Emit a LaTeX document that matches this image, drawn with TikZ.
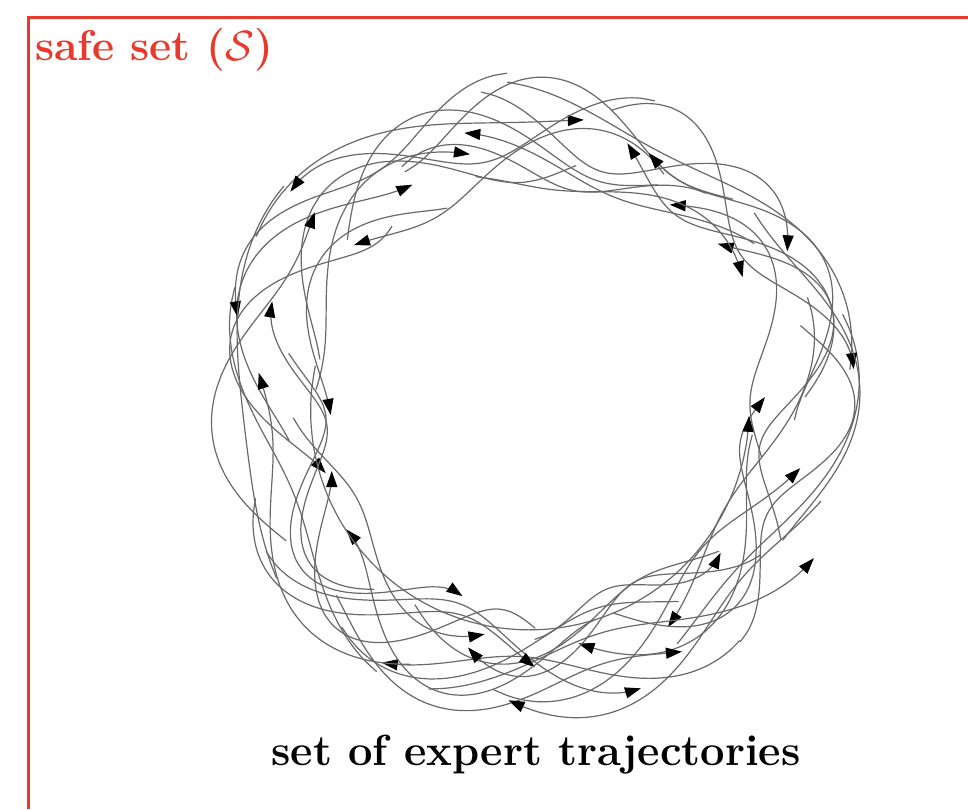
\documentclass[tikz,border=0pt]{standalone}
\usepackage{graphicx}
\usetikzlibrary{arrows.meta}
\definecolor{safered}{RGB}{232,58,44}
\definecolor{trajgray}{RGB}{105,105,105}
\tikzset{
  traj/.style={draw=trajgray, line width=1.2pt, line cap=round, >={Triangle[length=16pt,width=11pt,color=black]}},
  frameline/.style={draw=safered, line width=3pt},
}
\newcommand\trajline[7]{%
  \draw[traj,#7] plot[smooth,domain=0:1,samples=28,variable=\t]
    ({535+(#3+#4*sin(360*#5*\t+#6))*cos(#1+(#2-#1)*\t)},
     {397-(#3+#4*sin(360*#5*\t+#6))*sin(#1+(#2-#1)*\t)});}
\begin{document}
\begin{tikzpicture}[x=1pt,y=-1pt]
\useasboundingbox (0,0) rectangle (968,809);
\fill[white] (0,0) rectangle (968,809);
% frame of the safe set
\draw[frameline] (968,17.5) -- (28.5,17.5) -- (28.5,809);
\node[anchor=base west, text=safered, inner sep=0pt, font=\fontsize{43}{50}\selectfont\bfseries] (safelabel) at (35,60) {safe set (\scalebox{1.7}{$\mathcal{S}$})};
% trajectories
\trajline{0}{70}{270}{40}{1.0}{0}{->}
\trajline{20}{-60}{255}{35}{0.8}{90}{->}
\trajline{45}{120}{290}{30}{1.2}{200}{-}
\trajline{60}{140}{240}{35}{0.9}{30}{->}
\trajline{100}{30}{275}{40}{1.1}{120}{->}
\trajline{130}{200}{265}{45}{1.0}{250}{->}
\trajline{150}{80}{300}{25}{0.7}{60}{->}
\trajline{170}{250}{250}{40}{1.3}{180}{->}
\trajline{190}{120}{280}{35}{0.9}{300}{->}
\trajline{210}{290}{265}{45}{1.0}{90}{->}
\trajline{230}{160}{245}{35}{1.2}{10}{->}
\trajline{250}{330}{285}{40}{0.8}{140}{->}
\trajline{270}{200}{260}{45}{1.1}{220}{->}
\trajline{290}{360}{250}{40}{1.0}{330}{->}
\trajline{310}{240}{290}{30}{0.9}{70}{->}
\trajline{330}{400}{270}{40}{1.2}{160}{->}
\trajline{350}{280}{255}{35}{0.8}{260}{->}
\trajline{5}{95}{300}{25}{1.0}{40}{-}
\trajline{80}{170}{255}{40}{1.1}{210}{-}
\trajline{160}{240}{290}{30}{0.9}{100}{-}
\trajline{240}{320}{240}{30}{1.0}{0}{-}
\trajline{300}{375}{295}{30}{0.8}{200}{-}
\trajline{115}{185}{230}{25}{0.9}{300}{->}
\trajline{75}{5}{285}{35}{1.2}{20}{->}
\trajline{35}{105}{250}{35}{0.7}{150}{->}
\trajline{140}{60}{265}{40}{1.0}{330}{-}
\trajline{200}{270}{275}{45}{0.9}{30}{->}
\trajline{285}{215}{270}{40}{1.0}{280}{->}
\trajline{325}{255}{245}{35}{1.1}{120}{->}
\trajline{-15}{55}{245}{30}{1.0}{200}{->}
\trajline{95}{165}{300}{25}{1.2}{90}{->}
\trajline{178}{105}{245}{30}{0.8}{240}{->}
\trajline{225}{300}{300}{25}{1.1}{310}{->}
\trajline{262}{345}{265}{40}{0.9}{50}{->}
\trajline{340}{265}{300}{25}{1.0}{170}{->}
\trajline{15}{-50}{290}{30}{1.3}{330}{-}
\trajline{68}{140}{280}{40}{1.0}{100}{->}
\trajline{120}{50}{240}{30}{1.0}{60}{-}
\trajline{185}{258}{230}{25}{1.0}{150}{->}
\trajline{245}{175}{295}{30}{0.9}{0}{->}
\trajline{305}{230}{265}{45}{0.8}{200}{-}
\trajline{355}{425}{290}{30}{1.1}{280}{->}
\trajline{172}{355}{222}{12}{0.6}{0}{->}
\trajline{140}{215}{310}{18}{0.8}{90}{-}
\trajline{40}{-30}{305}{20}{1.0}{250}{-}
\trajline{105}{30}{228}{20}{0.9}{180}{->}
\trajline{210}{140}{300}{25}{1.0}{330}{->}
\trajline{270}{320}{225}{20}{1.0}{120}{->}
% caption
\node[anchor=base, inner sep=0pt, font=\fontsize{43.5}{50}\selectfont\bfseries] (caption) at (536,765) {set of expert trajectories};
\end{tikzpicture}
\end{document}
